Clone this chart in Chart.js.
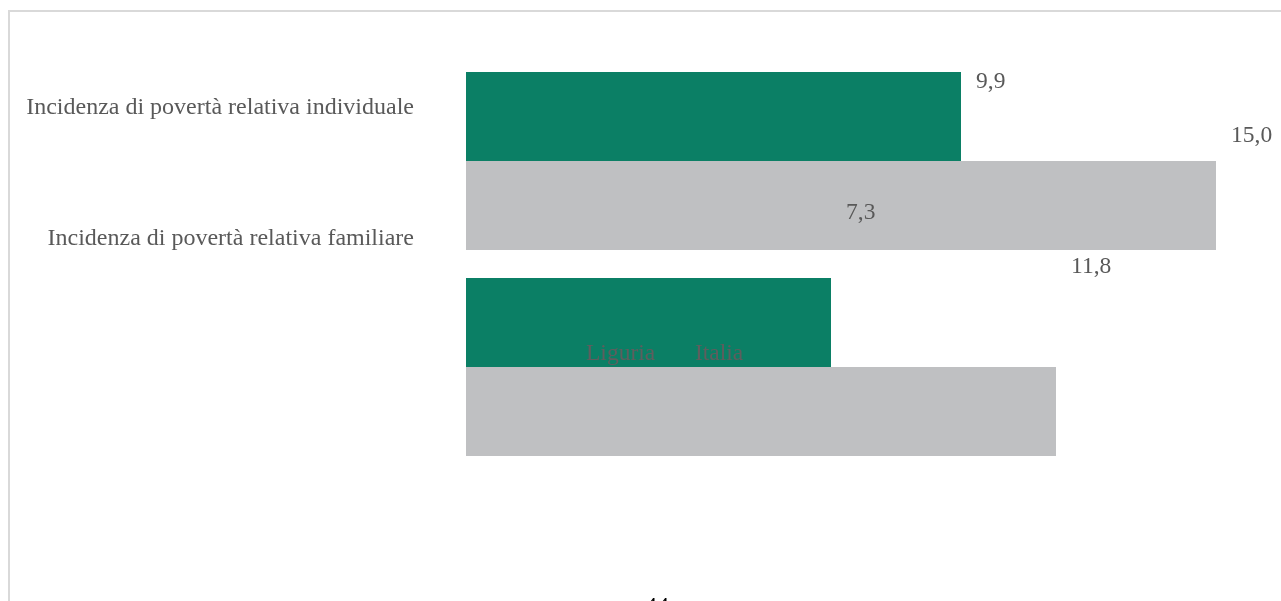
<!DOCTYPE html>
<html>
<head>
<meta charset="utf-8">
<script src="https://cdn.jsdelivr.net/npm/chart.js@4/dist/chart.umd.min.js"></script>
<style>
  html, body { margin: 0; padding: 0; background: #ffffff; overflow: hidden; }
  #wrap { position: relative; width: 1281px; height: 601px; }
  #frame { position: absolute; left: 8px; top: 10px; width: 1300px; height: 620px;
           border-top: 2px solid #d9d9d9; border-left: 2px solid #d9d9d9; box-sizing: border-box; }
  canvas { position: absolute; left: 0; top: 0; }
</style>
</head>
<body>
<div id="wrap">
  <div id="frame"></div>
  <canvas id="c" width="1281" height="601"></canvas>
</div>
<script>
const categories = ["Incidenza di povertà relativa individuale", "Incidenza di povertà relativa familiare"];
const seriesNames = ["Liguria", "Italia"];
const liguriaValues = [9.9, 7.3];
const italiaValues = [15.0, 11.8];
const pageNumber = "44";

const FONT = '23.5px "Liberation Serif", "Times New Roman", serif';
const LABEL_FONT = '24px "Liberation Serif", "Times New Roman", serif';
const TEXT_COLOR = '#595959';

function fmt(v) { return v.toFixed(1).replace('.', ','); }

const textPlugin = {
  id: 'textLayer',
  afterDatasetsDraw(chart) {
    const ctx = chart.ctx;
    const xs = chart.scales.x;
    ctx.save();
    ctx.textBaseline = 'alphabetic';
    // category labels (left side)
    ctx.font = LABEL_FONT;
    ctx.fillStyle = TEXT_COLOR;
    ctx.textAlign = 'right';
    categories.forEach((c, i) => {
      ctx.fillText(c, 414, 113.5 + 131 * i);
    });
    // value labels
    ctx.font = FONT;
    ctx.textAlign = 'left';
    const offsets = [88, 142];
    chart.data.datasets.forEach((ds, di) => {
      ds.data.forEach((v, i) => {
        ctx.fillText(fmt(v), xs.getPixelForValue(v) + 15, offsets[di] + 131 * i);
      });
    });
    // legend text
    ctx.fillStyle = '#5e5e5e';
    ctx.fillText(seriesNames[0], 586, 360);
    ctx.fillText(seriesNames[1], 695, 360);
    // page number
    ctx.fillStyle = '#000000';
    ctx.font = '24px "Liberation Serif", "Times New Roman", serif';
    ctx.fillText(pageNumber, 645, 613);
    ctx.restore();
  }
};

new Chart(document.getElementById('c'), {
  type: 'bar',
  data: {
    labels: categories,
    datasets: [
      { label: seriesNames[0], data: liguriaValues, backgroundColor: '#0b7f65', borderWidth: 0 },
      { label: seriesNames[1], data: italiaValues, backgroundColor: '#bfc0c2', borderWidth: 0 }
    ]
  },
  options: {
    indexAxis: 'y',
    responsive: false,
    devicePixelRatio: 1,
    animation: false,
    categoryPercentage: 0.864,
    barPercentage: 1.0,
    layout: { padding: { left: 466, right: 15, top: 58, bottom: 131 } },
    scales: {
      x: { display: false, min: 0, max: 16 },
      y: { display: false, offset: true }
    },
    plugins: {
      legend: { display: false },
      tooltip: { enabled: false },
      title: { display: false }
    }
  },
  plugins: [textPlugin]
});
</script>
</body>
</html>
